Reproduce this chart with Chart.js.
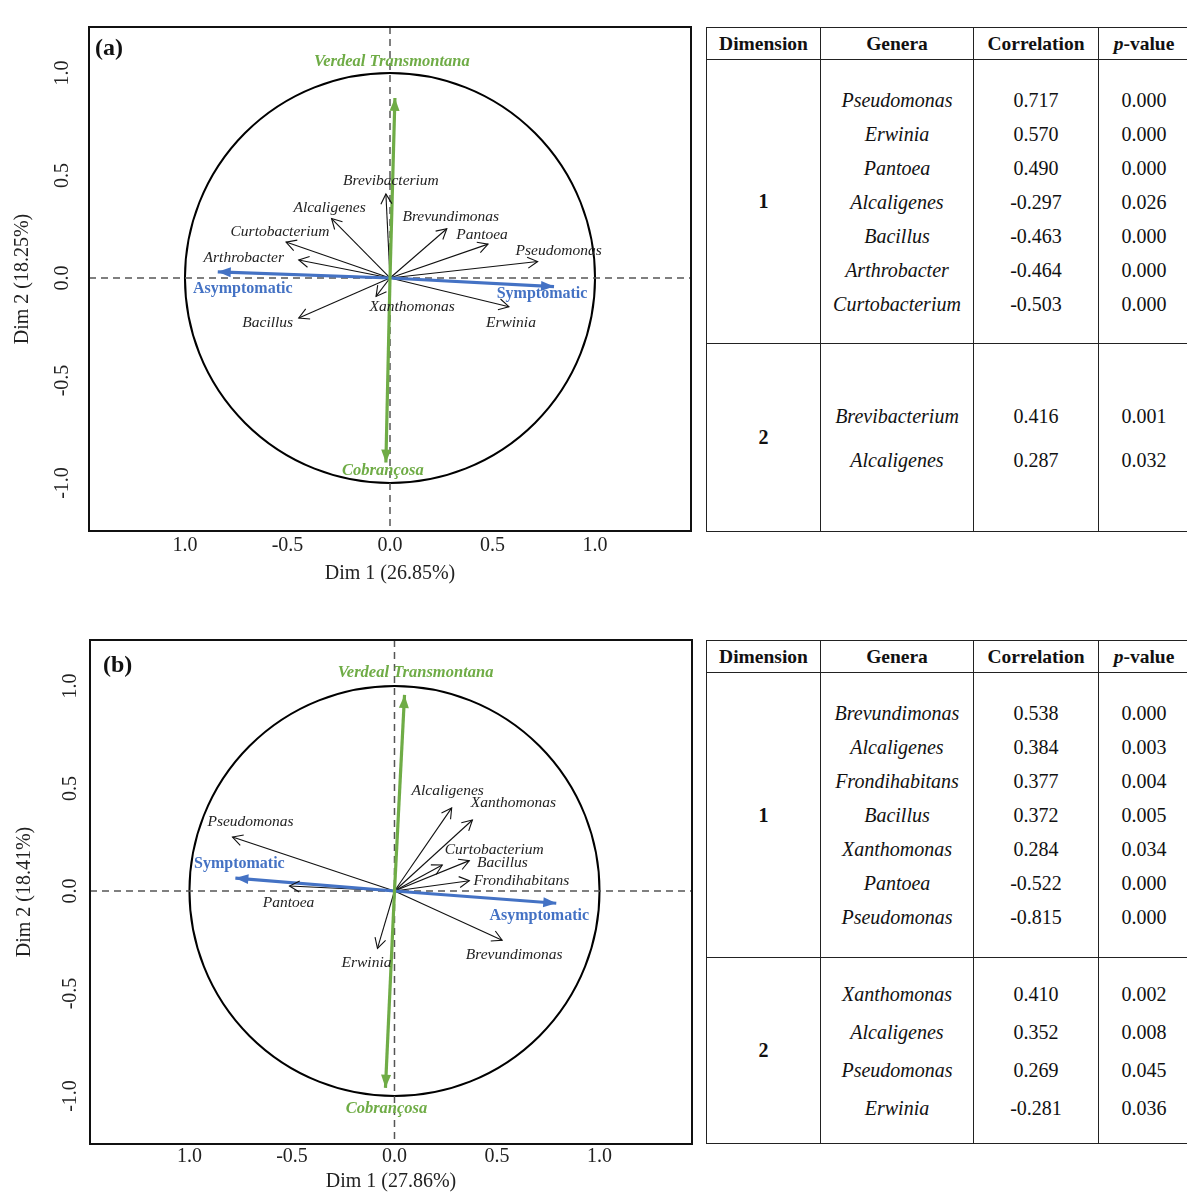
<!DOCTYPE html>
<html>
<head>
<meta charset="utf-8">
<script src="https://cdn.jsdelivr.net/npm/chart.js@4.4.1/dist/chart.umd.min.js"></script>
<style>
html, body { margin: 0; padding: 0; background: #fff; width: 1187px; height: 1194px; overflow: hidden; position: relative; }
.plot { position: absolute; left: 0; }
.tbl { position: absolute; border-collapse: collapse; table-layout: fixed; font-family: 'Liberation Serif', 'Times New Roman', serif; font-size: 20px; color: #111; }
.tbl th, .tbl td { border: 1.5px solid #222; text-align: center; vertical-align: middle; padding: 0; }
.tbl th { font-size: 19.5px; font-weight: bold; height: 31px; }
.tbl td.dim { font-weight: bold; }
.tbl td.gen { font-style: italic; }
</style>
</head>
<body>
<div class="plot" style="top:0;width:700px;height:600px"><canvas id="chartA" width="700" height="600"></canvas></div>
<div class="plot" style="top:613px;width:700px;height:581px"><canvas id="chartB" width="700" height="581"></canvas></div>
<div id="tableA"></div>
<div id="tableB"></div>
<script>
// ---- data, panel (a) ----
const generaA = ['Brevibacterium', 'Alcaligenes', 'Curtobacterium', 'Arthrobacter', 'Bacillus', 'Xanthomonas', 'Erwinia', 'Pseudomonas', 'Pantoea', 'Brevundimonas'];
const dim1A = [-0.02, -0.285, -0.507, -0.445, -0.445, -0.068, 0.58, 0.72, 0.478, 0.277];
const dim2A = [0.41, 0.29, 0.175, 0.088, -0.195, -0.09, -0.14, 0.08, 0.165, 0.24];
const suppA = ['Verdeal Transmontana', 'Cobrançosa', 'Symptomatic', 'Asymptomatic'];
const suppDim1A = [0.024, -0.02, 0.80, -0.84];
const suppDim2A = [0.878, -0.90, -0.042, 0.03];

// ---- data, panel (b) ----
const generaB = ['Pseudomonas', 'Pantoea', 'Alcaligenes', 'Xanthomonas', 'Curtobacterium', 'Bacillus', 'Frondihabitans', 'Brevundimonas', 'Erwinia'];
const dim1B = [-0.79, -0.512, 0.279, 0.38, 0.233, 0.365, 0.365, 0.525, -0.083];
const dim2B = [0.263, 0.024, 0.405, 0.346, 0.127, 0.148, 0.05, -0.24, -0.28];
const suppB = ['Verdeal Transmontana', 'Cobrançosa', 'Symptomatic', 'Asymptomatic'];
const suppDim1B = [0.049, -0.044, -0.776, 0.789];
const suppDim2B = [0.956, -0.96, 0.063, -0.06];

// ticks and axis titles
const tickValues = [-1, -0.5, 0, 0.5, 1];
const xTickLabels = ['1.0', '-0.5', '0.0', '0.5', '1.0'];
const yTickLabels = ['-1.0', '-0.5', '0.0', '0.5', '1.0'];
const xTitleA = 'Dim 1 (26.85%)', yTitleA = 'Dim 2 (18.25%)';
const xTitleB = 'Dim 1 (27.86%)', yTitleB = 'Dim 2 (18.41%)';

// ---- tables ----
const tabHead = ['Dimension', 'Genera', 'Correlation', '<i>p</i>-value'];
const tabA1Genera = ['Pseudomonas', 'Erwinia', 'Pantoea', 'Alcaligenes', 'Bacillus', 'Arthrobacter', 'Curtobacterium'];
const tabA1Corr = [0.717, 0.570, 0.490, -0.297, -0.463, -0.464, -0.503];
const tabA1P = [0.000, 0.000, 0.000, 0.026, 0.000, 0.000, 0.000];
const tabA2Genera = ['Brevibacterium', 'Alcaligenes'];
const tabA2Corr = [0.416, 0.287];
const tabA2P = [0.001, 0.032];
const tabB1Genera = ['Brevundimonas', 'Alcaligenes', 'Frondihabitans', 'Bacillus', 'Xanthomonas', 'Pantoea', 'Pseudomonas'];
const tabB1Corr = [0.538, 0.384, 0.377, 0.372, 0.284, -0.522, -0.815];
const tabB1P = [0.000, 0.003, 0.004, 0.005, 0.034, 0.000, 0.000];
const tabB2Genera = ['Xanthomonas', 'Alcaligenes', 'Pseudomonas', 'Erwinia'];
const tabB2Corr = [0.410, 0.352, 0.269, -0.281];
const tabB2P = [0.002, 0.008, 0.045, 0.036];

// ---- styles ----
const GREEN = '#6fac46', BLUE = '#4472c4';
const suppColor = { 'Verdeal Transmontana': GREEN, 'Cobrançosa': GREEN, 'Symptomatic': BLUE, 'Asymptomatic': BLUE };
const SERIF = "'Liberation Serif', 'Times New Roman', serif";

// label offsets from arrow tip (px)
const offsA = {
  'Brevibacterium': [5, -13], 'Alcaligenes': [-2, -11], 'Curtobacterium': [-6, -10], 'Arthrobacter': [-55, -2],
  'Bacillus': [-31, 5], 'Xanthomonas': [36, 10], 'Erwinia': [2, 16], 'Pseudomonas': [21, -11], 'Pantoea': [-6, -9],
  'Brevundimonas': [4, -12], 'Verdeal Transmontana': [-3, -36], 'Cobrançosa': [-3, 8], 'Symptomatic': [-12, 7], 'Asymptomatic': [25, 17]
};
const offsB = {
  'Pseudomonas': [18, -15], 'Pantoea': [-1, 17], 'Alcaligenes': [-4, -17], 'Xanthomonas': [41, -17], 'Curtobacterium': [52, -15],
  'Bacillus': [33, 2], 'Frondihabitans': [52, 0], 'Brevundimonas': [12, 15], 'Erwinia': [-11, 15],
  'Verdeal Transmontana': [11, -22], 'Cobrançosa': [1, 21], 'Symptomatic': [4, -14], 'Asymptomatic': [-17, 13]
};

function arrowHead(ctx, x0, y0, x1, y1, filled, color) {
  const ang = Math.atan2(y1 - y0, x1 - x0);
  ctx.save();
  ctx.translate(x1, y1);
  ctx.rotate(ang);
  ctx.beginPath();
  if (filled) {
    ctx.moveTo(0, 0);
    ctx.lineTo(-13, -5);
    ctx.lineTo(-13, 5);
    ctx.closePath();
    ctx.fillStyle = color;
    ctx.fill();
  } else {
    ctx.moveTo(-10, -5.5);
    ctx.lineTo(0, 0);
    ctx.lineTo(-10, 5.5);
    ctx.strokeStyle = color;
    ctx.lineWidth = 1.1;
    ctx.stroke();
  }
  ctx.restore();
}

const biplotDecor = {
  id: 'biplotDecor',
  beforeDatasetsDraw(chart, args, o) {
    const { ctx, chartArea: a, scales: { x, y } } = chart;
    const cx = x.getPixelForValue(0), cy = y.getPixelForValue(0);
    const rx = x.getPixelForValue(1) - cx, ry = cy - y.getPixelForValue(1);
    ctx.save();
    ctx.beginPath();
    ctx.ellipse(cx, cy, rx, ry, 0, 0, Math.PI * 2);
    ctx.lineWidth = 2;
    ctx.strokeStyle = '#000';
    ctx.stroke();
    ctx.setLineDash([7, 5]);
    ctx.strokeStyle = '#555';
    ctx.lineWidth = 1.5;
    ctx.beginPath();
    ctx.moveTo(a.left, cy); ctx.lineTo(a.right, cy);
    ctx.moveTo(cx, a.top); ctx.lineTo(cx, a.bottom);
    ctx.stroke();
    ctx.restore();
  },
  afterDatasetsDraw(chart, args, o) {
    const { ctx, chartArea: a, scales: { x, y } } = chart;
    ctx.save();
    chart.data.datasets.forEach((ds, i) => {
      const pts = chart.getDatasetMeta(i).data;
      const p0 = pts[0], p1 = pts[1];
      const supp = ds.kind === 'supp';
      arrowHead(ctx, p0.x, p0.y, p1.x, p1.y, supp, ds.borderColor);
      const off = o.offsets[ds.label] || [0, 0];
      ctx.textAlign = 'center';
      ctx.textBaseline = 'middle';
      if (supp) {
        const green = ds.borderColor === GREEN;
        ctx.font = (green ? 'italic bold 16.5px ' : 'bold 16px ') + SERIF;
        ctx.fillStyle = ds.borderColor;
      } else {
        ctx.font = 'italic 15.5px ' + SERIF;
        ctx.fillStyle = '#222';
      }
      ctx.fillText(ds.label, p1.x + off[0], p1.y + off[1]);
    });

    // frame
    ctx.lineWidth = 2;
    ctx.strokeStyle = '#111';
    ctx.strokeRect(a.left, a.top, a.right - a.left, a.bottom - a.top);

    // ticks
    ctx.fillStyle = '#222';
    ctx.font = '20px ' + SERIF;
    ctx.textAlign = 'center';
    ctx.textBaseline = 'middle';
    tickValues.forEach((v, i) => {
      ctx.fillText(xTickLabels[i], x.getPixelForValue(v), a.bottom + o.xTickDy);
    });
    tickValues.forEach((v, i) => {
      ctx.save();
      ctx.translate(a.left + o.yTickDx, y.getPixelForValue(v));
      ctx.rotate(-Math.PI / 2);
      ctx.fillText(yTickLabels[i], 0, 0);
      ctx.restore();
    });
    // axis titles
    ctx.fillText(o.xTitle, (a.left + a.right) / 2, a.bottom + o.xTitleDy);
    ctx.save();
    ctx.translate(a.left + o.yTitleDx, (a.top + a.bottom) / 2);
    ctx.rotate(-Math.PI / 2);
    ctx.fillText(o.yTitle, 0, 0);
    ctx.restore();
    // panel letter
    ctx.font = 'bold 24px ' + SERIF;
    ctx.textAlign = 'left';
    ctx.fillStyle = '#111';
    ctx.fillText(o.letter, a.left + o.letterDx, a.top + o.letterDy);
    ctx.restore();
  }
};

function biplot(id, genera, d1, d2, supp, s1, s2, xr, pad, deco) {
  const datasets = [];
  supp.forEach((s, i) => datasets.push({
    label: s, kind: 'supp', data: [{ x: 0, y: 0 }, { x: s1[i], y: s2[i] }],
    showLine: true, borderColor: suppColor[s], borderWidth: 3.2, pointRadius: 0, borderCapStyle: 'butt'
  }));
  genera.forEach((g, i) => datasets.push({
    label: g, kind: 'genus', data: [{ x: 0, y: 0 }, { x: d1[i], y: d2[i] }],
    showLine: true, borderColor: '#111', borderWidth: 1.1, pointRadius: 0
  }));
  return new Chart(document.getElementById(id), {
    type: 'scatter',
    data: { datasets },
    options: {
      responsive: false,
      animation: false,
      devicePixelRatio: 1,
      layout: { padding: pad },
      scales: {
        x: { type: 'linear', min: xr[0], max: xr[1], display: false },
        y: { type: 'linear', min: -1.234, max: 1.224, display: false }
      },
      plugins: { legend: { display: false }, tooltip: { enabled: false }, biplotDecor: deco }
    },
    plugins: [biplotDecor]
  });
}

biplot('chartA', generaA, dim1A, dim2A, suppA, suppDim1A, suppDim2A, [-1.468, 1.468],
  { left: 89, top: 27, right: 9, bottom: 69 },
  { offsets: offsA, xTitle: xTitleA, yTitle: yTitleA, xTickDy: 15, xTitleDy: 43, yTickDx: -26, yTitleDx: -66, letter: '(a)', letterDx: 6, letterDy: 22 });

biplot('chartB', generaB, dim1B, dim2B, suppB, suppDim1B, suppDim2B, [-1.485, 1.451],
  { left: 90, top: 27, right: 8, bottom: 50 },
  { offsets: offsB, xTitle: xTitleB, yTitle: yTitleB, xTickDy: 13, xTitleDy: 38, yTickDx: -19, yTitleDx: -65, letter: '(b)', letterDx: 13, letterDy: 26 });

// ---- tables ----
function buildTable(elId, left, top, groups) {
  let html = '<table class="tbl" style="left:' + left + 'px;top:' + top + 'px;width:483px">' +
    '<colgroup><col style="width:114px"><col style="width:153px"><col style="width:125px"><col style="width:91px"></colgroup><tr>';
  tabHead.forEach(h => { html += '<th>' + h + '</th>'; });
  html += '</tr>';
  groups.forEach((g, k) => {
    const lines = arr => arr.map(v => '<div style="line-height:' + g.lh + 'px">' + v + '</div>').join('');
    html += '<tr style="height:' + g.h + 'px"><td class="dim">' + (k + 1) + '</td>' +
      '<td class="gen">' + lines(g.genera) + '</td>' +
      '<td>' + lines(g.corr.map(v => v.toFixed(3))) + '</td>' +
      '<td>' + lines(g.p.map(v => v.toFixed(3))) + '</td></tr>';
  });
  html += '</table>';
  document.getElementById(elId).innerHTML = html;
}

buildTable('tableA', 706, 27, [
  { genera: tabA1Genera, corr: tabA1Corr, p: tabA1P, h: 284, lh: 34 },
  { genera: tabA2Genera, corr: tabA2Corr, p: tabA2P, h: 188, lh: 44 }
]);
buildTable('tableB', 706, 640, [
  { genera: tabB1Genera, corr: tabB1Corr, p: tabB1P, h: 285, lh: 34 },
  { genera: tabB2Genera, corr: tabB2Corr, p: tabB2P, h: 186, lh: 38 }
]);
</script>
</body>
</html>
